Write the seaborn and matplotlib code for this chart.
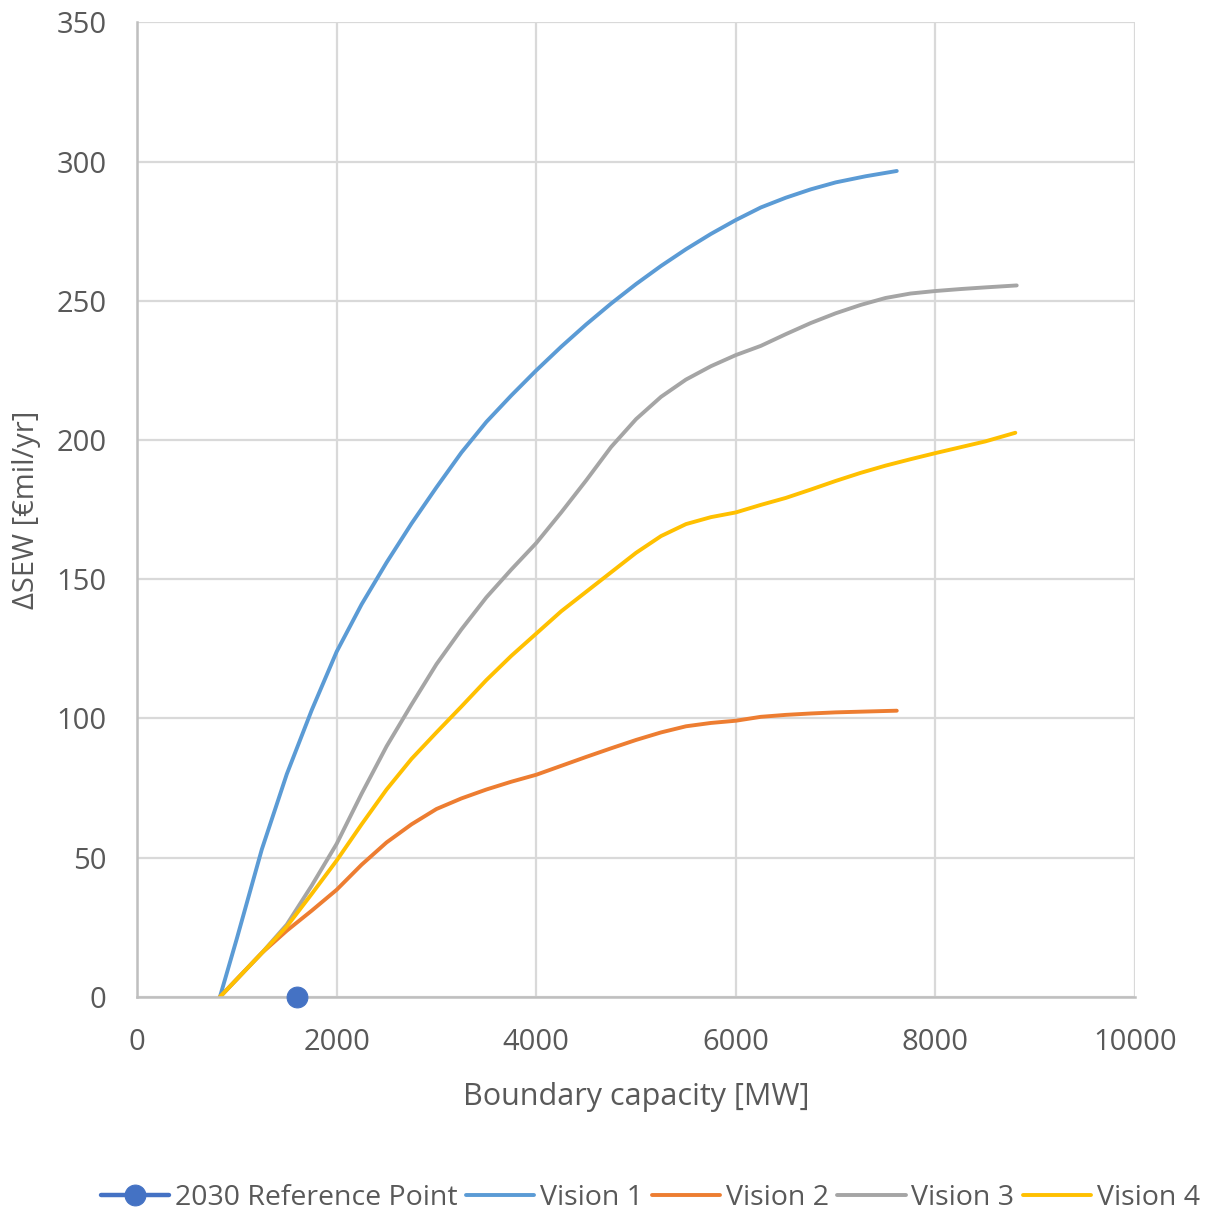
import matplotlib
matplotlib.use("Agg")
import matplotlib.pyplot as plt
import seaborn as sns
import pandas as pd

# ---- data ----
x_v1 = [830, 1000, 1250, 1500, 1750, 2000, 2250, 2500, 2750, 3000, 3250, 3500, 3750, 4000,
        4250, 4500, 4750, 5000, 5250, 5500, 5750, 6000, 6250, 6500, 6750, 7000, 7300, 7612]
y_v1 = [0, 21, 53, 80, 103, 124, 141, 156, 170, 183, 195.5, 206.5, 216, 225,
        233.5, 241.5, 249, 256, 262.5, 268.5, 274, 279, 283.5, 287, 290, 292.5, 294.7, 296.6]

x_v2 = [830, 1000, 1250, 1500, 1750, 2000, 2250, 2500, 2750, 3000, 3250, 3500, 3750, 4000,
        4250, 4500, 4750, 5000, 5250, 5500, 5750, 6000, 6250, 6500, 6750, 7000, 7300, 7612]
y_v2 = [0, 6.4, 15.8, 23.8, 31, 38.5, 47.5, 55.5, 62, 67.5, 71.3, 74.5, 77.3, 79.8,
        83, 86.2, 89.3, 92.3, 95, 97.2, 98.4, 99.2, 100.6, 101.3, 101.8, 102.2, 102.5, 102.8]

x_v3 = [830, 1000, 1250, 1500, 1750, 2000, 2250, 2500, 2750, 3000, 3250, 3500, 3750, 4000,
        4250, 4500, 4750, 5000, 5250, 5500, 5750, 6000, 6250, 6500, 6750, 7000, 7250, 7500,
        7750, 8000, 8250, 8500, 8814]
y_v3 = [0, 6.4, 15.8, 26, 40, 55, 73, 90, 105, 119.5, 132, 143.5, 153.5, 163,
        174, 185.5, 197.5, 207.5, 215.5, 221.7, 226.5, 230.5, 233.8, 238, 242, 245.5, 248.5, 251,
        252.6, 253.5, 254.2, 254.8, 255.5]

x_v4 = [830, 1000, 1250, 1500, 1750, 2000, 2250, 2500, 2750, 3000, 3250, 3500, 3750, 4000,
        4250, 4500, 4750, 5000, 5250, 5500, 5750, 6000, 6250, 6500, 6750, 7000, 7250, 7500,
        7750, 8000, 8250, 8500, 8800]
y_v4 = [0, 6.4, 15.8, 25.3, 37, 49, 62, 74.5, 85.5, 95, 104.3, 113.8, 122.5, 130.5,
        138.5, 145.5, 152.5, 159.5, 165.5, 169.8, 172.3, 174, 176.7, 179.2, 182.2, 185.3, 188.2, 190.8,
        193.1, 195.3, 197.4, 199.5, 202.6]

ref_x = [1600]
ref_y = [0]

series_names = ["Vision 1", "Vision 2", "Vision 3", "Vision 4"]
x_ticks = [0, 2000, 4000, 6000, 8000, 10000]
y_ticks = [0, 50, 100, 150, 200, 250, 300, 350]

# ---- styling ----
sns.set_theme(style="white")
plt.rcParams["font.family"] = ["Open Sans", "DejaVu Sans"]
text_col = "#595959"
grid_col = "#D9D9D9"
colors = {"Vision 1": "#5B9BD5", "Vision 2": "#ED7D31",
          "Vision 3": "#A5A5A5", "Vision 4": "#FFC000"}
ref_col = "#4472C4"

fig = plt.figure(figsize=(12.27, 12.23), dpi=100)
ax = fig.add_axes([0.1117, 0.1848, 0.8134, 0.797])

frames = []
for name, xs, ys in zip(series_names, [x_v1, x_v2, x_v3, x_v4], [y_v1, y_v2, y_v3, y_v4]):
    frames.append(pd.DataFrame({"x": xs, "y": ys, "series": name}))
df = pd.concat(frames, ignore_index=True)

ref_df = pd.DataFrame({"x": ref_x, "y": ref_y, "series": "2030 Reference Point"})
sns.lineplot(data=ref_df, x="x", y="y", ax=ax, color=ref_col, marker="o",
             markersize=15, markeredgecolor=ref_col, linewidth=3.2,
             label="2030 Reference Point", zorder=5, clip_on=False)

for name in series_names:
    sub = df[df["series"] == name]
    sns.lineplot(data=sub, x="x", y="y", ax=ax, color=colors[name], linewidth=2.8,
                 sort=False, label=name, estimator=None, solid_capstyle="round",
                 solid_joinstyle="round")

ax.set_xlim(0, 10000)
ax.set_ylim(0, 350)
ax.set_xticks(x_ticks)
ax.set_yticks(y_ticks)
ax.grid(True, color=grid_col, linewidth=1.6)
ax.set_axisbelow(True)
for s in ["top", "right"]:
    ax.spines[s].set_visible(False)
for s in ["left", "bottom"]:
    ax.spines[s].set_color("#BFBFBF")
    ax.spines[s].set_linewidth(1.8)
ax.tick_params(axis="x", length=0, labelsize=21, labelcolor=text_col, pad=22)
ax.tick_params(axis="y", length=0, labelsize=21, labelcolor=text_col, pad=22)
ax.set_xlabel("Boundary capacity [MW]", fontsize=22, color=text_col, labelpad=18)
ax.set_ylabel("ΔSEW [€mil/yr]", fontsize=21, color=text_col)
ax.yaxis.set_label_coords(-0.096, 0.5)

handles, labels = ax.get_legend_handles_labels()
ax.legend(handles, labels, loc="lower center", bbox_to_anchor=(0.53, -0.012),
          bbox_transform=fig.transFigure, ncol=5, frameon=False, fontsize=20.5,
          labelcolor=text_col, handlelength=2.4, handletextpad=0.2, columnspacing=0.3)

fig.savefig("out.png", dpi=100)
